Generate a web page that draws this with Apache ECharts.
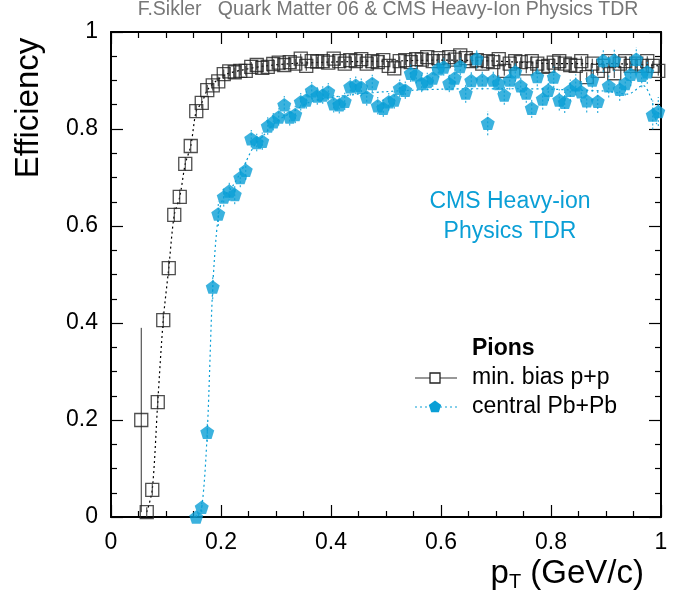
<!DOCTYPE html>
<html><head><meta charset="utf-8">
<script src="https://cdn.jsdelivr.net/npm/echarts@6/dist/echarts.min.js"></script>
<style>html,body{margin:0;padding:0;background:#fff}#c{width:684px;height:596px}</style>
</head><body><div id="c"></div>
<script>
// ---- data ----
const titleText = 'F.Sikler   Quark Matter 06 & CMS Heavy-Ion Physics TDR';
const xTickValues = [0, 0.2, 0.4, 0.6, 0.8, 1];
const yTickValues = [0, 0.2, 0.4, 0.6, 0.8, 1];

// min. bias p+p
const ppX = [0.055,0.065,0.075,0.085,0.095,0.105,0.115,0.125,0.135,0.145,0.155,0.165,0.175,0.185,0.195,
  0.205,0.215,0.225,0.235,0.245,0.255,0.265,0.275,0.285,0.295,0.305,0.315,0.325,0.335,0.345,
  0.355,0.365,0.375,0.385,0.395,0.405,0.415,0.425,0.435,0.445,0.455,0.465,0.475,0.485,0.495,
  0.505,0.515,0.525,0.535,0.545,0.555,0.565,0.575,0.585,0.595,0.605,0.615,0.625,0.635,0.645,
  0.655,0.665,0.675,0.685,0.695,0.705,0.715,0.725,0.735,0.745,0.755,0.765,0.775,0.785,0.795,
  0.805,0.815,0.825,0.835,0.845,0.855,0.865,0.875,0.885,0.895,0.905,0.915,0.925,0.935,0.945,
  0.955,0.965,0.975,0.985,0.995];
const ppY = [0.200,0.010,0.056,0.237,0.406,0.513,0.623,0.660,0.728,0.765,0.837,0.854,0.880,0.890,0.898,
  0.913,0.919,0.917,0.920,0.920,0.928,0.932,0.926,0.928,0.934,0.937,0.932,0.938,0.935,0.945,
  0.930,0.940,0.939,0.940,0.937,0.945,0.940,0.935,0.942,0.940,0.944,0.935,0.940,0.938,0.942,
  0.930,0.925,0.940,0.942,0.938,0.944,0.943,0.948,0.940,0.946,0.940,0.948,0.943,0.952,0.946,
  0.940,0.942,0.935,0.940,0.938,0.944,0.920,0.935,0.940,0.938,0.925,0.940,0.935,0.928,0.930,
  0.937,0.940,0.935,0.932,0.930,0.940,0.907,0.935,0.920,0.930,0.940,0.915,0.935,0.940,0.930,
  0.935,0.930,0.940,0.930,0.920];
const ppErr = [0.190,0.010,0.012,0.015,0.016,0.016,0.015,0.015,0.014,0.013,0.012,0.012,0.011,0.011,0.010,
  0.010,0.010,0.010,0.010,0.010,0.010,0.010,0.010,0.010,0.010,0.010,0.010,0.010,0.010,0.010,
  0.010,0.010,0.010,0.010,0.010,0.010,0.010,0.010,0.010,0.010,0.010,0.010,0.010,0.010,0.010,
  0.010,0.010,0.010,0.010,0.010,0.010,0.010,0.010,0.010,0.010,0.010,0.010,0.010,0.010,0.010,
  0.010,0.010,0.010,0.010,0.010,0.010,0.010,0.010,0.010,0.010,0.010,0.010,0.010,0.010,0.010,
  0.010,0.010,0.010,0.010,0.010,0.010,0.010,0.010,0.010,0.010,0.010,0.010,0.010,0.010,0.010,
  0.010,0.010,0.010,0.010,0.010];
const ppCurveX = [0.065,0.075,0.085,0.095,0.105,0.115,0.125,0.135,0.145,0.155,0.165,0.175,0.19,0.21,0.24,0.28,0.33,0.40,0.50,0.60,0.70,0.80,0.90,1.0];
const ppCurveY = [0.010,0.056,0.237,0.406,0.513,0.623,0.660,0.728,0.765,0.837,0.854,0.880,0.898,0.913,0.922,0.930,0.935,0.938,0.940,0.942,0.940,0.935,0.935,0.930];

// central Pb+Pb
const pbX = [0.155,0.165,0.175,0.185,0.195,0.205,0.215,0.225,0.235,0.245,0.255,0.265,0.275,0.285,0.295,
  0.305,0.315,0.325,0.335,0.345,0.355,0.365,0.375,0.385,0.395,0.405,0.415,0.425,0.435,0.445,
  0.455,0.465,0.475,0.485,0.495,0.505,0.515,0.525,0.535,0.545,0.555,0.565,0.575,0.585,0.595,
  0.605,0.615,0.625,0.635,0.645,0.655,0.665,0.675,0.685,0.695,0.705,0.715,0.725,0.735,0.745,
  0.755,0.765,0.775,0.785,0.795,0.805,0.815,0.825,0.835,0.845,0.855,0.865,0.875,0.885,0.895,
  0.905,0.915,0.925,0.935,0.945,0.955,0.965,0.975,0.985,0.995];
const pbY = [0.000,0.020,0.175,0.474,0.625,0.660,0.672,0.665,0.700,0.715,0.780,0.772,0.775,0.806,0.815,
  0.825,0.850,0.825,0.830,0.856,0.860,0.879,0.868,0.870,0.877,0.852,0.850,0.857,0.887,0.890,
  0.886,0.866,0.894,0.848,0.843,0.856,0.860,0.884,0.880,0.915,0.912,0.894,0.898,0.905,0.924,
  0.928,0.894,0.905,0.929,0.874,0.900,0.945,0.901,0.812,0.901,0.894,0.870,0.901,0.918,0.889,
  0.874,0.843,0.908,0.862,0.880,0.907,0.860,0.855,0.880,0.891,0.877,0.858,0.901,0.857,0.941,
  0.889,0.942,0.882,0.894,0.913,0.944,0.911,0.918,0.829,0.836];
const pbErr = [0.005,0.010,0.020,0.025,0.025,0.020,0.020,0.020,0.020,0.020,0.018,0.018,0.018,0.018,0.018,
  0.018,0.018,0.018,0.018,0.018,0.018,0.018,0.018,0.018,0.018,0.018,0.018,0.018,0.018,0.018,
  0.018,0.018,0.018,0.018,0.018,0.018,0.018,0.018,0.018,0.018,0.018,0.018,0.018,0.018,0.018,
  0.018,0.018,0.018,0.018,0.020,0.020,0.020,0.020,0.025,0.020,0.020,0.020,0.020,0.020,0.020,
  0.020,0.020,0.020,0.022,0.022,0.022,0.022,0.022,0.022,0.022,0.022,0.024,0.024,0.024,0.024,
  0.024,0.024,0.024,0.025,0.025,0.025,0.025,0.025,0.030,0.030];
const pbCurveX = [0.150,0.155,0.165,0.175,0.185,0.195,0.205,0.22,0.24,0.26,0.28,0.30,0.33,0.36,0.40,0.45,0.50,0.55,0.60,0.65,0.70,0.75,0.80,0.85,0.90,0.94,0.967,0.983,0.992];
const pbCurveY = [0.000,0.000,0.020,0.175,0.474,0.620,0.660,0.680,0.720,0.765,0.790,0.815,0.835,0.855,0.865,0.872,0.877,0.880,0.882,0.883,0.883,0.883,0.882,0.880,0.878,0.872,0.890,0.860,0.810];

// ---- chart ----
const BLUE = '#0a9fd6';
const FONT = 'Liberation Sans, Arial, Helvetica, sans-serif';
const PENT = 'path://M0,-1L0.951,-0.309L0.588,0.809L-0.588,0.809L-0.951,-0.309Z';

const chart = echarts.init(document.getElementById('c'), null, {renderer: 'canvas'});

function errItem(color, dash) {
  return function (params, api) {
    const x = api.value(0), y = api.value(1), e = api.value(2);
    const p1 = api.coord([x, Math.max(0, y - e)]);
    const p2 = api.coord([x, Math.min(1, y + e)]);
    return {type: 'line', shape: {x1: p1[0], y1: p1[1], x2: p2[0], y2: p2[1]},
      style: {stroke: color, lineWidth: 1, lineDash: dash}};
  };
}

function axisCommon(showLabel) {
  return {
    type: 'value', min: 0, max: 1, interval: 0.2,
    axisLine: {show: true, onZero: false, lineStyle: {color: '#000', width: 2}},
    axisTick: {show: true, inside: true, length: 12, lineStyle: {color: '#000', width: 1.2}},
    minorTick: {show: true, splitNumber: 4, length: 6, lineStyle: {color: '#000', width: 1.2}},
    splitLine: {show: false},
    axisLabel: {show: showLabel, color: '#000', fontSize: 23, fontFamily: FONT,
      formatter: v => (xTickValues.indexOf(v) >= 0 ? String(v) : '')}
  };
}

const xBottom = Object.assign(axisCommon(true), {position: 'bottom'});
xBottom.axisLabel.margin = 14;
const xTop = Object.assign(axisCommon(false), {position: 'top'});
const yLeft = Object.assign(axisCommon(true), {position: 'left'});
yLeft.axisLabel.margin = 13;
yLeft.axisLabel.formatter = v => (yTickValues.indexOf(v) >= 0 ? String(v) : '');
const yRight = Object.assign(axisCommon(false), {position: 'right'});

function pent(cx, cy, r) {
  const pts = [];
  for (const a of [-90, -18, 54, 126, 198]) {
    pts.push([cx + r * Math.cos(a * Math.PI / 180), cy + r * Math.sin(a * Math.PI / 180)]);
  }
  return pts;
}

const option = {
  animation: false,
  backgroundColor: '#fff',
  grid: {left: 111, right: 23, top: 32, bottom: 79, containLabel: false},
  xAxis: [xBottom, xTop],
  yAxis: [yLeft, yRight],
  series: [
    {type: 'line', xAxisIndex: 0, yAxisIndex: 0, data: ppCurveX.map((x, i) => [x, ppCurveY[i]]),
      smooth: 0.3, showSymbol: false, lineStyle: {color: '#000', width: 1.2, type: [2, 3]}, z: 2, silent: true},
    {type: 'custom', xAxisIndex: 0, yAxisIndex: 0, renderItem: errItem('#333', null),
      data: ppX.map((x, i) => [x, ppY[i], ppErr[i]]), encode: {x: 0, y: 1}, z: 3, clip: true},
    {type: 'scatter', xAxisIndex: 0, yAxisIndex: 0, data: ppX.map((x, i) => [x, ppY[i]]),
      symbol: 'rect', symbolSize: 13,
      itemStyle: {color: 'rgba(0,0,0,0)', borderColor: '#222', borderWidth: 1.3}, z: 4},
    {type: 'line', xAxisIndex: 0, yAxisIndex: 0, data: pbCurveX.map((x, i) => [x, pbCurveY[i]]),
      smooth: 0.3, showSymbol: false, lineStyle: {color: BLUE, width: 1.2, type: [2, 3]}, z: 5, silent: true},
    {type: 'custom', xAxisIndex: 0, yAxisIndex: 0, renderItem: errItem(BLUE, [2, 2]),
      data: pbX.map((x, i) => [x, pbY[i], pbErr[i]]), encode: {x: 0, y: 1}, z: 6, clip: true},
    {type: 'scatter', xAxisIndex: 0, yAxisIndex: 0, data: pbX.map((x, i) => [x, pbY[i]]),
      symbol: PENT, symbolSize: [14, 13.5], itemStyle: {color: BLUE}, z: 7}
  ],
  graphic: [
    {type: 'text', x: 388, y: 10, style: {text: titleText, font: '19.5px ' + FONT, fill: '#777',
      textAlign: 'center', textVerticalAlign: 'middle'}},
    {type: 'text', x: 29, y: 108, rotation: Math.PI / 2, style: {text: 'Efficiency', font: '33px ' + FONT,
      fill: '#000', textAlign: 'center', textVerticalAlign: 'middle'}},
    {type: 'text', x: 644, y: 574, style: {
      text: '{p|p}{t|T}{p| (GeV/c)}', textAlign: 'right', textVerticalAlign: 'middle',
      rich: {p: {font: '33px ' + FONT, fill: '#000'}, t: {font: '20px ' + FONT, fill: '#000', padding: [17, 0, 0, 0]}}}},
    {type: 'text', x: 510, y: 202, style: {text: 'CMS Heavy-ion', font: '23px ' + FONT, fill: BLUE,
      textAlign: 'center', textVerticalAlign: 'middle'}},
    {type: 'text', x: 510, y: 232, style: {text: 'Physics TDR', font: '23px ' + FONT, fill: BLUE,
      textAlign: 'center', textVerticalAlign: 'middle'}},
    // legend
    {type: 'text', x: 472, y: 349, style: {text: 'Pions', font: 'bold 23px ' + FONT, fill: '#000',
      textAlign: 'left', textVerticalAlign: 'middle'}},
    {type: 'line', shape: {x1: 415, y1: 378, x2: 457, y2: 378}, style: {stroke: '#333', lineWidth: 1.2}},
    {type: 'rect', shape: {x: 430, y: 373, width: 10, height: 10}, style: {fill: '#fff', stroke: '#222', lineWidth: 1.3}},
    {type: 'text', x: 472, y: 378, style: {text: 'min. bias p+p', font: '23px ' + FONT, fill: '#000',
      textAlign: 'left', textVerticalAlign: 'middle'}},
    {type: 'line', shape: {x1: 415, y1: 407, x2: 457, y2: 407}, style: {stroke: BLUE, lineWidth: 1.2, lineDash: [2, 3]}},
    {type: 'polygon', shape: {points: pent(435, 407, 6.5)}, style: {fill: BLUE}},
    {type: 'text', x: 472, y: 407, style: {text: 'central Pb+Pb', font: '23px ' + FONT, fill: '#000',
      textAlign: 'left', textVerticalAlign: 'middle'}}
  ]
};
chart.setOption(option);
</script>
</body></html>
